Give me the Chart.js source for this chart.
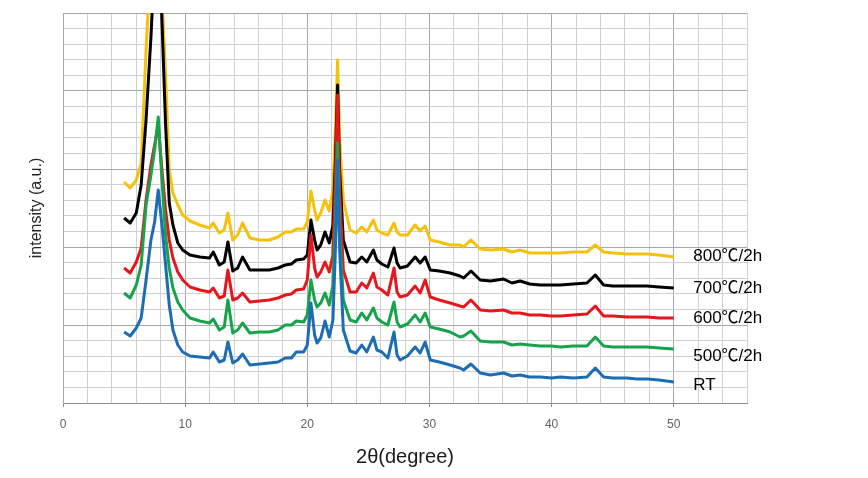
<!DOCTYPE html>
<html><head><meta charset="utf-8">
<script src="https://cdn.jsdelivr.net/npm/chart.js@4.4.1/dist/chart.umd.min.js"></script>
<style>html,body{margin:0;padding:0;background:#fff;}#wrap{width:868px;height:478px;}</style>
</head><body>
<div id="wrap"><canvas id="c" width="868" height="478"></canvas></div>
<script>
// 2θ positions (degree)
const twoTheta = [5.0,5.5,6.0,6.4,6.8,7.2,7.5,7.8,8.1,8.4,8.7,9.0,9.4,9.8,10.4,11.2,12.0,12.3,12.8,13.2,13.5,13.9,14.3,14.7,15.3,16.1,16.9,17.6,18.2,18.7,19.1,19.7,20.0,20.3,20.6,20.8,21.1,21.45,21.8,22.1,22.3,22.48,22.65,22.95,23.5,24.0,24.46,24.87,25.41,25.7,26.1,26.6,27.1,27.35,27.6,28.2,28.83,29.24,29.65,30.07,30.8,31.7,32.5,32.8,33.4,34.16,35.0,36.07,36.75,37.43,38.2,39.07,40.0,40.71,41.8,42.9,43.58,44.26,45.0,46.18,47.0,47.82,48.8,50.0];
// intensity (a.u., offset patterns as plotted)
const rt = [71,67,75,85,123,163,181,213,178,138,98,73,58,51,47,46,45,51,41,43,61,40,43,49,38,39,40,41,45,45,51,51,58,100,68,60,65,82,66,83,153,243,153,73,52,50,58,51,66,53,51,45,71,48,43,47,56,50,61,43,41,38,35,33,39,30,28,30,27,28,26,26,25,26,25,26,35,26,25,25,24,24,23,21];
const c500 = [110,105,118,138,198,228,253,286,223,168,135,115,101,93,85,82,80,84,73,76,103,70,73,80,70,71,71,73,78,78,82,81,88,123,103,96,100,110,98,118,183,260,173,103,83,81,90,83,95,85,81,78,101,81,76,79,88,81,90,76,74,71,66,67,72,62,61,61,58,59,58,57,57,56,57,57,66,57,56,56,56,56,55,54];
const c600 = [135,130,141,155,203,238,258,278,233,193,163,145,131,123,116,113,111,115,105,107,133,103,105,110,101,102,103,105,108,109,113,114,123,168,135,126,131,141,131,148,223,308,213,133,111,111,120,115,130,116,113,108,135,111,106,108,117,110,123,106,103,100,97,96,103,93,92,93,90,90,88,88,87,87,88,89,97,87,87,86,86,86,85,85];
const c700 = [185,180,190,218,283,366,443,488,383,278,200,178,160,153,148,146,145,151,138,141,161,132,135,146,133,133,133,135,138,139,143,144,148,183,163,153,158,171,160,178,243,318,233,163,141,140,146,141,153,143,139,136,155,140,135,137,146,140,146,133,132,130,127,125,132,123,122,124,120,122,119,118,118,118,119,120,128,118,117,117,117,117,116,115];
const c800 = [221,215,223,240,353,448,493,513,408,328,233,210,198,188,182,178,175,180,170,173,190,163,168,180,165,163,163,166,171,171,174,174,181,212,193,183,190,203,192,213,273,343,263,203,173,170,176,171,183,173,170,168,180,171,168,168,178,172,177,163,161,158,158,156,163,154,153,154,151,153,150,150,150,150,151,151,158,151,150,149,149,149,148,146];
const seriesLabels = ['RT','500℃/2h','600℃/2h','700℃/2h','800℃/2h'];
const labelLevels = [18,47,85,115,147];
const xTickLabels = [0,10,20,30,40,50];

const seriesValues = [rt, c500, c600, c700, c800];
const seriesColors = ['#1c6db3','#17a34b','#e5171d','#000000','#f4c20d'];
const labelX = 51.6;
const yMax = 390, yDivisions = 25;

const datasets = seriesValues.map((vals, i) => ({
  label: seriesLabels[i],
  data: twoTheta.map((t, j) => ({x: t, y: vals[j]})),
  borderColor: seriesColors[i],
  borderWidth: 3,
  pointRadius: 0,
  tension: 0,
  borderJoinStyle: 'round',
  fill: false
}));

const seriesLabelPlugin = {
  id: 'seriesLabelPlugin',
  afterDatasetsDraw(chart) {
    const {ctx, scales: {x, y}} = chart;
    ctx.save();
    ctx.font = '17px "Liberation Sans", "Noto Sans CJK KR", sans-serif';
    ctx.fillStyle = '#000';
    ctx.textBaseline = 'middle';
    ctx.textAlign = 'left';
    seriesLabels.forEach((t, i) => ctx.fillText(t, x.getPixelForValue(labelX), y.getPixelForValue(labelLevels[i])));
    ctx.restore();
  }
};

new Chart(document.getElementById('c'), {
  type: 'line',
  data: {datasets},
  plugins: [seriesLabelPlugin],
  options: {
    responsive: false,
    animation: false,
    layout: {padding: {top: 13, right: 121, left: 0, bottom: 0}},
    plugins: {legend: {display: false}, tooltip: {enabled: false}},
    scales: {
      x: {
        type: 'linear', min: 0, max: 56,
        afterFit(s) { s.height = 75; },
        ticks: {
          stepSize: 2, autoSkip: false, maxRotation: 0, padding: 10,
          color: '#606060', font: {family: '"Liberation Sans", sans-serif', size: 12},
          callback: v => xTickLabels.includes(v) ? String(v) : ''
        },
        grid: {
          color: c => (c.tick && c.tick.value % 10 === 0) ? '#a8a8a8' : '#d0d0d0',
          tickColor: c => (c.tick && c.tick.value % 10 === 0) ? '#8c8c8c' : 'rgba(0,0,0,0)',
          tickLength: 4, lineWidth: 1
        },
        border: {color: '#8c8c8c'},
        title: {display: true, text: '2θ(degree)', color: '#1a1a1a', padding: {bottom: 9, top: 0},
          font: {family: '"Liberation Sans", sans-serif', size: 20}}
      },
      y: {
        type: 'linear', min: 0, max: yMax,
        afterFit(s) { s.width = 63; },
        afterBuildTicks(s) { s.ticks = Array.from({length: yDivisions + 1}, (_, k) => ({value: k * yMax / yDivisions})); },
        ticks: {display: false},
        grid: {
          color: c => (c.index % 5 === 0) ? '#a8a8a8' : '#d0d0d0',
          drawTicks: false, lineWidth: 1
        },
        border: {color: '#a8a8a8'},
        title: {display: true, text: 'intensity (a.u.)', color: '#262626', padding: {top: 27, bottom: 0},
          font: {family: '"Liberation Sans", sans-serif', size: 16}}
      }
    }
  }
});
</script>
</body></html>
